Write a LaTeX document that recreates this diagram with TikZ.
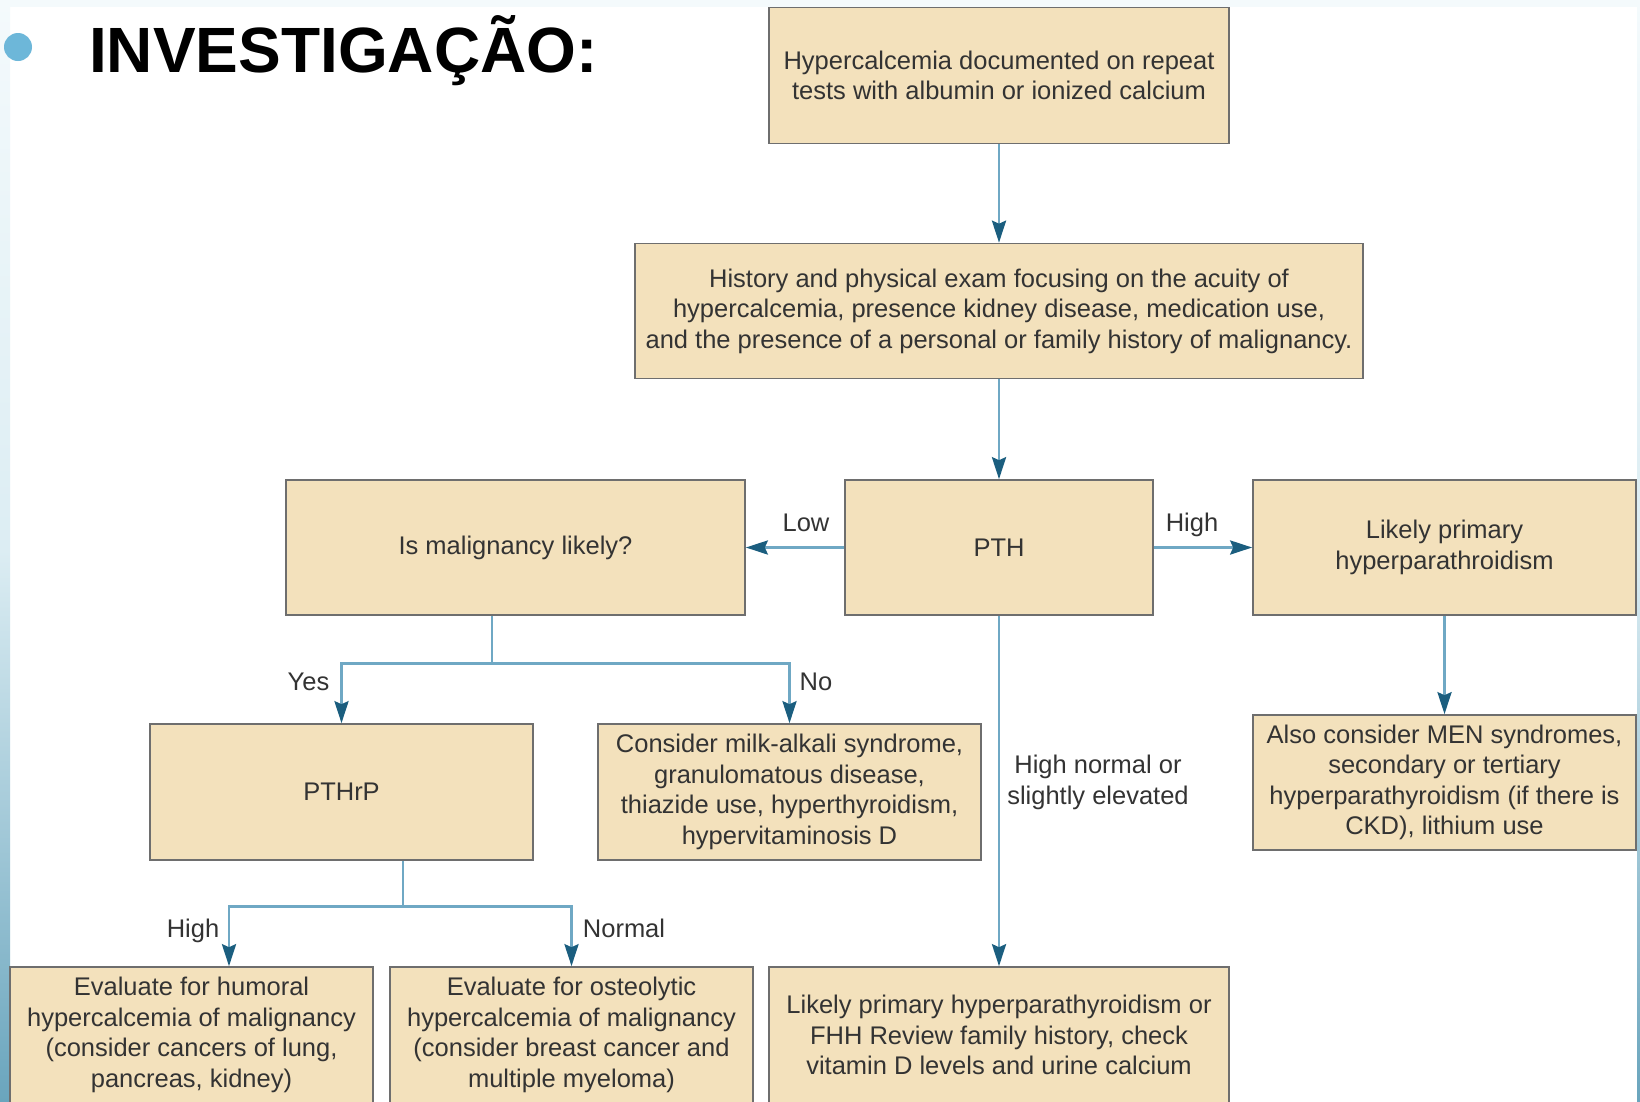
\documentclass[tikz,border=0pt]{standalone}
\usepackage{fontspec}
\setmainfont{Liberation Sans}
\usetikzlibrary{arrows.meta}
\definecolor{boxfill}{HTML}{F3E1BC}
\definecolor{boxdraw}{HTML}{6E6E6E}
\definecolor{linecol}{HTML}{6FA8C4}
\definecolor{tipcol}{HTML}{1B5E7F}
\definecolor{txtcol}{HTML}{333333}
\definecolor{bullet}{HTML}{6DB7D9}
\definecolor{stripA}{HTML}{F4FAFC}
\definecolor{stripB}{HTML}{DCEDF3}
\definecolor{stripC}{HTML}{6AA5BD}
\begin{document}
\begin{tikzpicture}[x=1pt,y=-1pt,
  fbox/.style={draw=boxdraw, line width=1.6pt, fill=boxfill, inner sep=0pt,
    align=center, text=txtcol, font=\fontsize{25.5}{30.5}\selectfont},
  lbl/.style={text=txtcol, font=\fontsize{25.5}{30.5}\selectfont, inner sep=0pt},
  wire/.style={draw=linecol, line width=2.9pt},
  conn/.style={wire, -{Stealth[length=22pt,width=14pt,inset=3pt,color=tipcol]}}]
\useasboundingbox (0,0) rectangle (1640,1101);
\clip (0,0) rectangle (1640,1101);
% background
\fill[white] (0,0) rectangle (1640,1101);
\fill[stripA] (0,0) rectangle (1640,7);
\shade[top color=stripA, bottom color=stripC, middle color=stripB] (0,0) rectangle (10,1101);
\shade[top color=stripA, bottom color=stripC, middle color=stripB] (1637,0) rectangle (1640,1101);
% title
\fill[bullet] (18,47) circle (14);
\node[anchor=base west, inner sep=0pt, font=\fontsize{64}{64}\selectfont\bfseries] (title) at (89,72.5) {INVESTIGAÇÃO:};
% boxes
\node[fbox, minimum width=460pt, minimum height=136pt] (top) at (999,75.5)
  {Hypercalcemia documented on repeat\\tests with albumin or ionized calcium};
\node[fbox, minimum width=728pt, minimum height=135pt] (hist) at (999,311)
  {History and physical exam focusing on the acuity of\\hypercalcemia, presence kidney disease, medication use,\\and the presence of a personal or family history of malignancy.};
\node[fbox, minimum width=459pt, minimum height=135pt] (mal) at (515.5,547.5) {Is malignancy likely?};
\node[fbox, minimum width=308pt, minimum height=135pt] (pth) at (999,547.5) {PTH};
\node[fbox, minimum width=383pt, minimum height=135pt] (lpa) at (1444.5,547.5)
  {Likely primary\\hyperparathroidism};
\node[fbox, minimum width=383pt, minimum height=136pt] (pthrp) at (341.5,792) {PTHrP};
\node[fbox, minimum width=383pt, minimum height=136pt] (milk) at (789.5,792)
  {Consider milk-alkali syndrome,\\granulomatous disease,\\thiazide use, hyperthyroidism,\\hypervitaminosis D};
\node[fbox, minimum width=383pt, minimum height=135pt] (men) at (1444.5,782.5)
  {Also consider MEN syndromes,\\secondary or tertiary\\hyperparathyroidism (if there is\\CKD), lithium use};
\node[fbox, minimum width=363pt, minimum height=136pt] (hum) at (191.5,1035)
  {Evaluate for humoral\\hypercalcemia of malignancy\\(consider cancers of lung,\\pancreas, kidney)};
\node[fbox, minimum width=363pt, minimum height=136pt] (ost) at (571.5,1035)
  {Evaluate for osteolytic\\hypercalcemia of malignancy\\(consider breast cancer and\\multiple myeloma)};
\node[fbox, minimum width=460pt, minimum height=136pt] (fhh) at (999,1035)
  {Likely primary hyperparathyroidism or\\FHH Review family history, check\\vitamin D levels and urine calcium};
% connectors
\draw[conn] (top.south) -- (hist.north);
\draw[conn] (hist.south) -- (pth.north);
\draw[conn] (pth.west) -- (mal.east);
\draw[conn] (pth.east) -- (lpa.west);
\draw[conn] (pth.south) -- (fhh.north);
\draw[conn] (lpa.south) -- (men.north);
\draw[wire] ([xshift=-23.5pt]mal.south) -- ++(0,48) coordinate (mj);
\draw[conn] (mj) -| (pthrp.north);
\draw[conn] (mj) -| (milk.north);
\draw[wire] ([xshift=61.5pt]pthrp.south) -- ++(0,46) coordinate (pj);
\draw[conn] (pj) -| ([xshift=37.5pt]hum.north);
\draw[conn] (pj) -| (ost.north);
% labels
\node[lbl, anchor=base] (llow) at (806,531) {Low};
\node[lbl, anchor=base] (lhigh) at (1192,531) {High};
\node[lbl, anchor=base] (lyes) at (308.5,690) {Yes};
\node[lbl, anchor=base] (lno) at (816,690) {No};
\node[lbl, anchor=base] (lhigh2) at (193,937) {High};
\node[lbl, anchor=base] (lnorm) at (624,937) {Normal};
\node[lbl, align=center, anchor=base] (lhn) at (1098,804) {High normal or\\slightly elevated};
\end{tikzpicture}
\end{document}
